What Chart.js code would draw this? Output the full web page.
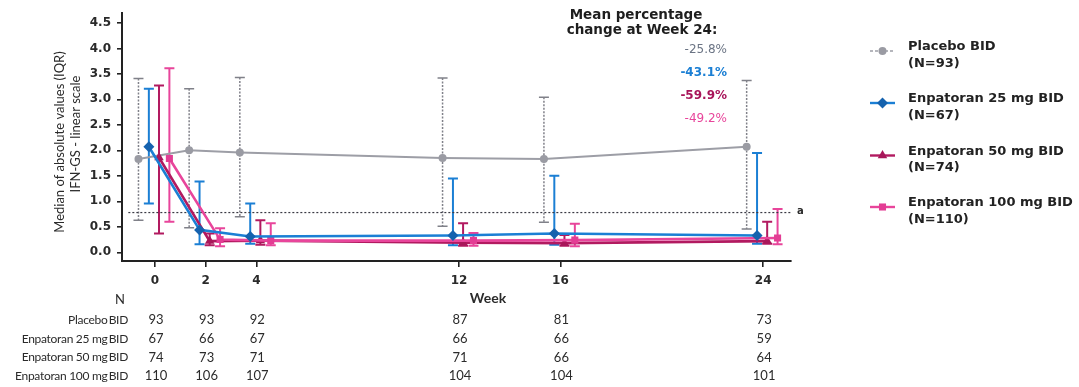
<!DOCTYPE html>
<html>
<head>
<meta charset="utf-8">
<script src="https://cdn.jsdelivr.net/npm/chart.js@4.4.1/dist/chart.umd.min.js"></script>
<style>
  html, body { margin: 0; padding: 0; background: #fff; }
</style>
</head>
<body>
<canvas id="ifnChart" width="1079" height="387"></canvas>
<script>
// study weeks and y tick labels
const weeks = [0, 2, 4, 12, 16, 24];
const yTicks = [0, 0.5, 1, 1.5, 2, 2.5, 3, 3.5, 4, 4.5];

// medians and interquartile ranges per arm
const placeboMedian = [1.83, 2.00, 1.96, 1.85, 1.83, 2.07];
const placeboQ1 = [0.63, 0.48, 0.70, 0.51, 0.59, 0.46];
const placeboQ3 = [3.41, 3.21, 3.43, 3.42, 3.04, 3.37];

const enp25Median = [2.07, 0.44, 0.31, 0.33, 0.37, 0.33];
const enp25Q1 = [0.96, 0.16, 0.17, 0.14, 0.15, 0.17];
const enp25Q3 = [3.21, 1.39, 0.96, 1.45, 1.50, 1.95];

const enp50Median = [1.86, 0.22, 0.23, 0.19, 0.18, 0.22];
const enp50Q1 = [0.37, 0.14, 0.15, 0.13, 0.13, 0.17];
const enp50Q3 = [3.27, 0.37, 0.63, 0.57, 0.34, 0.60];

const enp100Median = [1.84, 0.25, 0.23, 0.23, 0.24, 0.28];
const enp100Q1 = [0.60, 0.12, 0.14, 0.13, 0.12, 0.16];
const enp100Q3 = [3.61, 0.47, 0.57, 0.38, 0.56, 0.85];

// patients at each visit
const nPlacebo = [93, 93, 92, 87, 81, 73];
const nEnp25 = [67, 66, 67, 66, 66, 59];
const nEnp50 = [74, 73, 71, 71, 66, 64];
const nEnp100 = [110, 106, 107, 104, 104, 101];

const armNames = ["Placebo BID", "Enpatoran 25 mg BID", "Enpatoran 50 mg BID", "Enpatoran 100 mg BID"];
const armTotals = [93, 67, 74, 110];
const week24Change = ["-25.8%", "-43.1%", "-59.9%", "-49.2%"];
const threshold = 0.78;

const X_MIN = -1.3, X_MAX = 25.1;

const arms = [
  { median: placeboMedian, q1: placeboQ1, q3: placeboQ3, n: nPlacebo, dodge: -0.65,
    color: "#9d9ea6", marker: "#9a9ba3", err: "#808189", errDash: [2, 1.5], style: "circle", radius: 4, width: 2, order: 3 },
  { median: enp25Median, q1: enp25Q1, q3: enp25Q3, n: nEnp25, dodge: -0.24,
    color: "#1b7fd4", marker: "#1562ae", err: "#1b7fd4", errDash: [], style: "rectRot", radius: 5.5, width: 2.6, order: 0 },
  { median: enp50Median, q1: enp50Q1, q3: enp50Q3, n: nEnp50, dodge: 0.16,
    color: "#b21a60", marker: "#a8175a", err: "#b21a60", errDash: [], style: "triangle", radius: 5.5, width: 2.6, order: 2 },
  { median: enp100Median, q1: enp100Q1, q3: enp100Q3, n: nEnp100, dodge: 0.57,
    color: "#e8459b", marker: "#e33d94", err: "#e8459b", errDash: [], style: "rect", radius: 5, width: 2.6, order: 1 },
];
const pctColors = ["#6b7484", "#1b7fd4", "#a8155a", "#e8459b"];

const datasets = arms.map((a, i) => ({
  label: armNames[i],
  data: weeks.map((w, j) => ({ x: w + a.dodge, y: a.median[j] })),
  q1: a.q1,
  q3: a.q3,
  errColor: a.err,
  errDash: a.errDash,
  errWidth: i === 0 ? 1.5 : 2,
  borderColor: a.color,
  borderWidth: a.width,
  backgroundColor: a.marker,
  pointBackgroundColor: a.marker,
  pointBorderColor: a.marker,
  pointStyle: a.style,
  pointRadius: a.radius,
  pointBorderWidth: 0,
  tension: 0,
  order: a.order,
}));

datasets.push({
  label: "threshold",
  data: [{ x: X_MIN + 0.25, y: threshold }, { x: X_MAX, y: threshold }],
  borderColor: "#3a3a44",
  borderWidth: 1.2,
  borderDash: [2, 2],
  pointRadius: 0,
  order: 4,
});

// IQR whiskers with caps, under the lines
const errorBars = {
  id: "errorBars",
  beforeDatasetsDraw(chart) {
    const { ctx, scales: { x, y } } = chart;
    chart.data.datasets.forEach(ds => {
      if (!ds.q1) return;
      ctx.save();
      ctx.strokeStyle = ds.errColor;
      ctx.lineWidth = ds.errWidth;
      ds.data.forEach((p, j) => {
        const px = x.getPixelForValue(p.x);
        const top = y.getPixelForValue(ds.q3[j]);
        const bot = y.getPixelForValue(ds.q1[j]);
        ctx.setLineDash(ds.errDash);
        ctx.beginPath();
        ctx.moveTo(px, top);
        ctx.lineTo(px, bot);
        ctx.stroke();
        ctx.setLineDash([]);
        ctx.beginPath();
        ctx.moveTo(px - 5, top); ctx.lineTo(px + 5, top);
        ctx.moveTo(px - 5, bot); ctx.lineTo(px + 5, bot);
        ctx.stroke();
      });
      ctx.restore();
    });
  }
};

// axis titles, N table, week-24 notes and the side legend
const annotations = {
  id: "annotations",
  afterDraw(chart) {
    const { ctx, scales: { x, y } } = chart;
    ctx.save();

    // y title
    ctx.fillStyle = "#2b2b2b";
    ctx.font = "13px Lato, sans-serif";
    ctx.textAlign = "center";
    ctx.textBaseline = "middle";
    ctx.save();
    ctx.translate(60, 142);
    ctx.rotate(-Math.PI / 2);
    ctx.fillText("Median of absolute values (IQR)", 0, 0);
    ctx.restore();
    ctx.save();
    ctx.translate(76, 134);
    ctx.rotate(-Math.PI / 2);
    ctx.fillText("IFN-GS - linear scale", 0, 0);
    ctx.restore();

    // x title
    ctx.font = "bold 14px Lato, sans-serif";
    ctx.fillText("Week", 488, 298);

    // N table
    ctx.font = "13px Lato, sans-serif";
    ctx.fillText("N", 120, 300);
    const rowY = [320, 339, 357.5, 376];
    const counts = [nPlacebo, nEnp25, nEnp50, nEnp100];
    rowY.forEach((ry, r) => {
      ctx.textAlign = "right";
      ctx.font = "12px Lato, sans-serif";
      ctx.letterSpacing = "-0.3px";
      ctx.fillText(armNames[r].replace(" BID", "\u2009BID"), 128, ry);
      ctx.letterSpacing = "0px";
      ctx.textAlign = "center";
      ctx.font = "13px Lato, sans-serif";
      weeks.forEach((w, j) => {
        ctx.fillText(String(counts[r][j]), x.getPixelForValue(w) + 1, ry);
      });
    });

    // week 24 percentage changes
    ctx.fillStyle = "#1e1e1e";
    ctx.font = "bold 13.5px 'DejaVu Sans', sans-serif";
    ctx.textAlign = "center";
    ctx.fillText("Mean percentage", 636, 15);
    ctx.fillText("change at Week 24:", 642, 30);
    ctx.textAlign = "right";
    const pctY = [49.5, 72.5, 95.5, 118.5];
    week24Change.forEach((t, i) => {
      ctx.fillStyle = pctColors[i];
      ctx.font = (i === 1 || i === 2 ? "bold " : "") + "12px 'DejaVu Sans', sans-serif";
      ctx.fillText(t, 727, pctY[i]);
    });

    // threshold tag
    ctx.fillStyle = "#2b2b2b";
    ctx.font = "bold 10px 'DejaVu Sans', sans-serif";
    ctx.textAlign = "left";
    ctx.fillText("a", 797, y.getPixelForValue(threshold) - 1);

    // legend
    const legY = [47, 99, 151.5, 203];
    arms.forEach((a, i) => {
      const ly = legY[i];
      const my = ly + 4;
      ctx.strokeStyle = a.color;
      ctx.lineWidth = i === 0 ? 1.5 : 2.4;
      ctx.setLineDash(i === 0 ? [3, 2] : []);
      ctx.beginPath();
      ctx.moveTo(870, my);
      ctx.lineTo(895, my);
      ctx.stroke();
      ctx.setLineDash([]);
      ctx.fillStyle = a.marker;
      Chart.helpers.drawPoint(ctx, { pointStyle: a.style, radius: a.radius, rotation: 0, borderWidth: 0 }, 882.5, my);
      ctx.fillStyle = "#222";
      ctx.font = "bold 13px 'DejaVu Sans', sans-serif";
      ctx.textAlign = "left";
      ctx.fillText(armNames[i], 908, ly);
      ctx.fillText("(N=" + armTotals[i] + ")", 908, ly + 16.5);
    });

    ctx.restore();
  }
};

const tickFont = { family: "'DejaVu Sans', sans-serif", weight: "bold", size: 12 };

new Chart(document.getElementById("ifnChart"), {
  type: "line",
  data: { datasets: datasets },
  options: {
    responsive: false,
    animation: false,
    layout: { padding: { top: 5, right: 288, left: 0, bottom: 0 } },
    plugins: {
      legend: { display: false },
      tooltip: { enabled: false },
    },
    scales: {
      x: {
        type: "linear",
        min: X_MIN,
        max: X_MAX,
        afterBuildTicks: s => { s.ticks = weeks.map(v => ({ value: v })); },
        afterFit: s => { s.height = 126; },
        grid: { drawOnChartArea: false, drawTicks: true, tickLength: 6, color: "#222", lineWidth: 1.6 },
        border: { color: "#222", width: 2 },
        ticks: { font: tickFont, color: "#2a2a2a", padding: 7, maxRotation: 0, autoSkip: false },
      },
      y: {
        type: "linear",
        min: -0.17,
        max: 4.69,
        afterBuildTicks: s => { s.ticks = yTicks.map(v => ({ value: v })); },
        afterFit: s => { s.width = 122; },
        grid: { drawOnChartArea: false, drawTicks: true, tickLength: 5, color: "#222", lineWidth: 1.6 },
        border: { color: "#222", width: 2 },
        ticks: { font: tickFont, color: "#2a2a2a", padding: 6, callback: v => Number(v).toFixed(1) },
      },
    },
  },
  plugins: [errorBars, annotations],
});
</script>
</body>
</html>
